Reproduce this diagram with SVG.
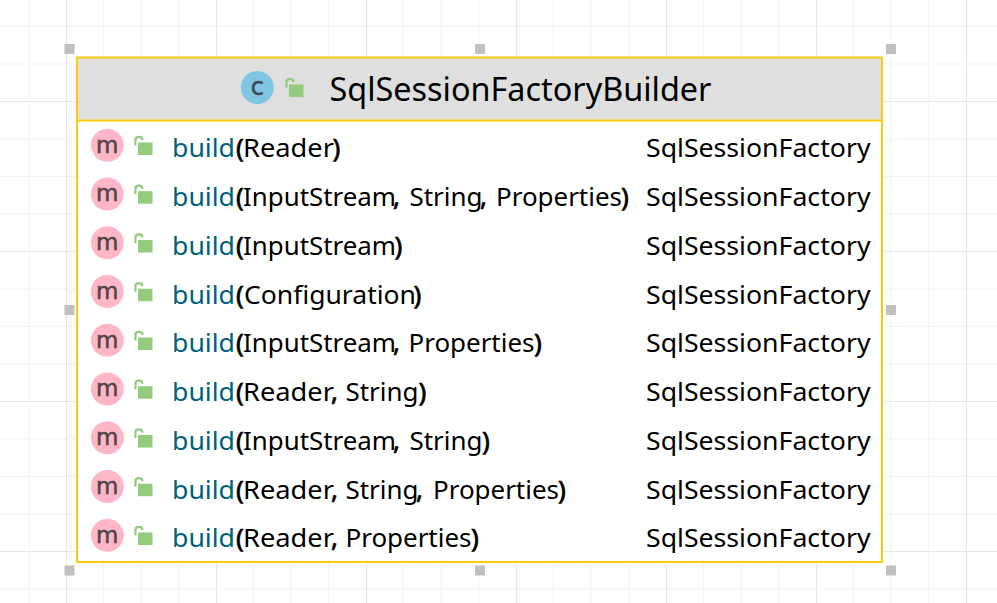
<svg xmlns="http://www.w3.org/2000/svg" width="997" height="603" viewBox="0 0 997 603">
<style>
.minor{stroke:#f3f3f3;stroke-width:1.2;fill:none}
.major{stroke:#e6e6e6;stroke-width:1.2;fill:none}
.h{fill:#c0c0c0}
text{font-family:"Noto Sans","Open Sans","Liberation Sans",sans-serif;fill:#000;font-size:26px}
text.b{fill:#00627a}
text.p{stroke:#000;stroke-width:.7}
text.ic{font-size:23px;fill:#4e4448;stroke:#4e4448;stroke-width:.5;text-anchor:middle;font-family:"DejaVu Sans",sans-serif}
</style>
<defs>
<g id="lock"><rect x="0" y="0" width="14.5" height="12.5" fill="#93cc7d"/><path d="M-2.6 3V-2.5Q-2.6-5.6 1-5.6Q4.4-5.6 4.4-2.5" fill="none" stroke="#93cc7d" stroke-width="2.2"/></g>
<g id="m"><circle cx="0" cy="0" r="16.5" fill="#ffb6c6"/><text class="ic" x="0" y="7.4">m</text></g>
</defs>
<rect width="997" height="603" fill="#fff"/>
<g id="grid">
<path class="minor" d="M28.5 0V603M103.5 0V603M141 0V603M178.5 0V603M253.5 0V603M291 0V603M328.5 0V603M403.5 0V603M441 0V603M478.5 0V603M553.5 0V603M591 0V603M628.5 0V603M703.5 0V603M741 0V603M778.5 0V603M853.5 0V603M891 0V603M928.5 0V603M0 26.5H997M0 64H997M0 139H997M0 176.5H997M0 214H997M0 289H997M0 326.5H997M0 364H997M0 439H997M0 476.5H997M0 514H997M0 589H997"/>
<path class="major" d="M66.5 0V603M216.5 0V603M366.5 0V603M516.5 0V603M666.5 0V603M816.5 0V603M966.5 0V603M0 101.5H997M0 251.5H997M0 401.5H997M0 551.5H997"/>
</g>
<g id="handles">
<rect class="h" x="64.5" y="44" width="10" height="10"/><rect class="h" x="475" y="44" width="10" height="10"/><rect class="h" x="886" y="44" width="10" height="10"/>
<rect class="h" x="64.5" y="305" width="10" height="10"/><rect class="h" x="886" y="305" width="10" height="10"/>
<rect class="h" x="64.5" y="565.5" width="10" height="10"/><rect class="h" x="475" y="565.5" width="10" height="10"/><rect class="h" x="886" y="565.5" width="10" height="10"/>
</g>
<g id="class-node">
<rect x="77" y="57.5" width="805" height="504.5" fill="#fff"/>
<rect x="77" y="57.5" width="805" height="62.5" fill="#dfdfdf"/>
<path d="M77 120.5H882" stroke="#ffc90e" stroke-width="2" fill="none"/>
<rect x="77" y="57.5" width="805" height="504.5" fill="none" stroke="#ffc90e" stroke-width="2"/>
<circle cx="257.3" cy="87.5" r="16.5" fill="#7fc6e2"/>
<text x="257.3" y="94.5" style="font-size:24px;fill:#3f4a52;stroke:#3f4a52;stroke-width:.5;text-anchor:middle;font-family:'DejaVu Sans',sans-serif">c</text>
<use href="#lock" x="289" y="84.5"/>
<text x="329.5" y="101" style="font-size:33px" textLength="382" lengthAdjust="spacingAndGlyphs">SqlSessionFactoryBuilder</text>
</g>
<g id="row-1"><use href="#m" x="107.3" y="145.3"/><use href="#lock" x="138" y="142.5"/>
<text class="b" x="172" y="157" textLength="63" lengthAdjust="spacingAndGlyphs">build</text><text class="p" x="236" y="157">(</text>
<text x="243" y="157" textLength="91" lengthAdjust="spacingAndGlyphs">Reader</text><text class="p" x="332.5" y="157">)</text>
<text x="646" y="157" textLength="224.5" lengthAdjust="spacingAndGlyphs">SqlSessionFactory</text></g>
<g id="row-2"><use href="#m" x="107.3" y="194"/><use href="#lock" x="138" y="191.2"/>
<text class="b" x="172" y="206" textLength="63" lengthAdjust="spacingAndGlyphs">build</text><text class="p" x="236" y="206">(</text>
<text x="243" y="206" textLength="153" lengthAdjust="spacingAndGlyphs">InputStream</text><text class="p" x="393" y="206">,</text>
<text x="409.5" y="206" textLength="73" lengthAdjust="spacingAndGlyphs">String</text><text class="p" x="480" y="206">,</text>
<text x="496" y="206" textLength="126" lengthAdjust="spacingAndGlyphs">Properties</text><text class="p" x="621" y="206">)</text>
<text x="646" y="206" textLength="224.5" lengthAdjust="spacingAndGlyphs">SqlSessionFactory</text></g>
<g id="row-3"><use href="#m" x="107.3" y="242.8"/><use href="#lock" x="138" y="240"/>
<text class="b" x="172" y="254.5" textLength="63" lengthAdjust="spacingAndGlyphs">build</text><text class="p" x="236" y="254.5">(</text>
<text x="243" y="254.5" textLength="153" lengthAdjust="spacingAndGlyphs">InputStream</text><text class="p" x="394.5" y="254.5">)</text>
<text x="646" y="254.5" textLength="224.5" lengthAdjust="spacingAndGlyphs">SqlSessionFactory</text></g>
<g id="row-4"><use href="#m" x="107.3" y="291.5"/><use href="#lock" x="138" y="288.7"/>
<text class="b" x="172" y="303.5" textLength="63" lengthAdjust="spacingAndGlyphs">build</text><text class="p" x="236" y="303.5">(</text>
<text x="244" y="303.5" textLength="172" lengthAdjust="spacingAndGlyphs">Configuration</text><text class="p" x="413.5" y="303.5">)</text>
<text x="646" y="303.5" textLength="224.5" lengthAdjust="spacingAndGlyphs">SqlSessionFactory</text></g>
<g id="row-5"><use href="#m" x="107.3" y="340.3"/><use href="#lock" x="138" y="337.5"/>
<text class="b" x="172" y="352" textLength="63" lengthAdjust="spacingAndGlyphs">build</text><text class="p" x="236" y="352">(</text>
<text x="243" y="352" textLength="153" lengthAdjust="spacingAndGlyphs">InputStream</text><text class="p" x="393" y="352">,</text>
<text x="408.5" y="352" textLength="126" lengthAdjust="spacingAndGlyphs">Properties</text><text class="p" x="534" y="352">)</text>
<text x="646" y="352" textLength="224.5" lengthAdjust="spacingAndGlyphs">SqlSessionFactory</text></g>
<g id="row-6"><use href="#m" x="107.3" y="389"/><use href="#lock" x="138" y="386.2"/>
<text class="b" x="172" y="400.7" textLength="63" lengthAdjust="spacingAndGlyphs">build</text><text class="p" x="236" y="400.7">(</text>
<text x="243" y="400.7" textLength="91" lengthAdjust="spacingAndGlyphs">Reader</text><text class="p" x="331" y="400.7">,</text>
<text x="345.5" y="400.7" textLength="73" lengthAdjust="spacingAndGlyphs">String</text><text class="p" x="418.5" y="400.7">)</text>
<text x="646" y="400.7" textLength="224.5" lengthAdjust="spacingAndGlyphs">SqlSessionFactory</text></g>
<g id="row-7"><use href="#m" x="107.3" y="437.8"/><use href="#lock" x="138" y="435"/>
<text class="b" x="172" y="449.5" textLength="63" lengthAdjust="spacingAndGlyphs">build</text><text class="p" x="236" y="449.5">(</text>
<text x="243" y="449.5" textLength="153" lengthAdjust="spacingAndGlyphs">InputStream</text><text class="p" x="393" y="449.5">,</text>
<text x="409.5" y="449.5" textLength="73" lengthAdjust="spacingAndGlyphs">String</text><text class="p" x="482" y="449.5">)</text>
<text x="646" y="449.5" textLength="224.5" lengthAdjust="spacingAndGlyphs">SqlSessionFactory</text></g>
<g id="row-8"><use href="#m" x="107.3" y="486.5"/><use href="#lock" x="138" y="483.7"/>
<text class="b" x="172" y="498.5" textLength="63" lengthAdjust="spacingAndGlyphs">build</text><text class="p" x="236" y="498.5">(</text>
<text x="243" y="498.5" textLength="91" lengthAdjust="spacingAndGlyphs">Reader</text><text class="p" x="331" y="498.5">,</text>
<text x="345.5" y="498.5" textLength="73" lengthAdjust="spacingAndGlyphs">String</text><text class="p" x="416" y="498.5">,</text>
<text x="433" y="498.5" textLength="126" lengthAdjust="spacingAndGlyphs">Properties</text><text class="p" x="558" y="498.5">)</text>
<text x="646" y="498.5" textLength="224.5" lengthAdjust="spacingAndGlyphs">SqlSessionFactory</text></g>
<g id="row-9"><use href="#m" x="107.3" y="535.3"/><use href="#lock" x="138" y="532.5"/>
<text class="b" x="172" y="547" textLength="63" lengthAdjust="spacingAndGlyphs">build</text><text class="p" x="236" y="547">(</text>
<text x="243" y="547" textLength="91" lengthAdjust="spacingAndGlyphs">Reader</text><text class="p" x="331" y="547">,</text>
<text x="345.5" y="547" textLength="126" lengthAdjust="spacingAndGlyphs">Properties</text><text class="p" x="471" y="547">)</text>
<text x="646" y="547" textLength="224.5" lengthAdjust="spacingAndGlyphs">SqlSessionFactory</text></g>
</svg>
